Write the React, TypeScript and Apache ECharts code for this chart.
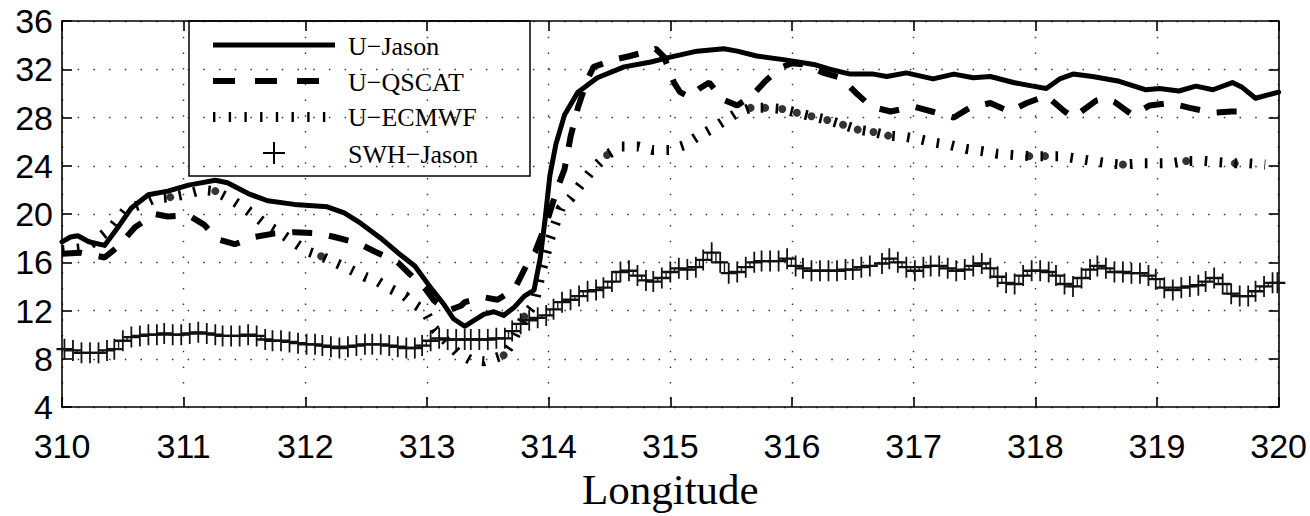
import React, { useEffect, useRef } from "react";
import * as echarts from "echarts";

// Longitude / value pairs
const uJason: [number, number][] = [
  [310.0, 17.7], [310.07, 18.1], [310.13, 18.2], [310.22, 17.7], [310.35, 17.4], [310.46, 18.9],
  [310.57, 20.5], [310.71, 21.6], [310.87, 21.9], [311.04, 22.4], [311.26, 22.8], [311.36, 22.6],
  [311.53, 21.7], [311.69, 21.1], [311.91, 20.8], [312.18, 20.6], [312.32, 20.1], [312.46, 19.2],
  [312.62, 18.0], [312.76, 16.8], [312.9, 15.7], [313.03, 13.9], [313.14, 12.5], [313.22, 11.3],
  [313.31, 10.7], [313.39, 11.2], [313.47, 11.7], [313.55, 11.9], [313.63, 11.6], [313.72, 12.3],
  [313.8, 13.2], [313.88, 13.7], [313.93, 16.3], [313.97, 19.5], [314.01, 23.2], [314.06, 25.8],
  [314.13, 28.2], [314.24, 30.1], [314.4, 31.3], [314.62, 32.2], [314.84, 32.6], [315.0, 33.0],
  [315.22, 33.5], [315.44, 33.7], [315.55, 33.5], [315.71, 33.1], [315.93, 32.8], [316.18, 32.4],
  [316.31, 32.0], [316.48, 31.6], [316.67, 31.6], [316.78, 31.4], [316.94, 31.7], [317.16, 31.2],
  [317.33, 31.6], [317.49, 31.3], [317.63, 31.4], [317.82, 30.9], [317.98, 30.6], [318.09, 30.4],
  [318.2, 31.2], [318.31, 31.6], [318.47, 31.4], [318.69, 31.0], [318.91, 30.3], [319.02, 30.4],
  [319.18, 30.2], [319.32, 30.6], [319.46, 30.3], [319.62, 30.9], [319.7, 30.5], [319.81, 29.6],
  [319.92, 29.9], [320.0, 30.1],
];

const uQscat: [number, number][] = [
  [310.0, 16.7], [310.15, 16.8], [310.35, 16.4], [310.46, 17.3], [310.6, 18.9], [310.76, 20.0],
  [310.87, 19.8], [311.04, 19.9], [311.17, 19.1], [311.28, 17.9], [311.42, 17.5], [311.58, 18.1],
  [311.75, 18.4], [311.91, 18.5], [312.1, 18.4], [312.24, 18.1], [312.43, 17.6], [312.57, 16.9],
  [312.76, 16.0], [312.84, 15.2], [312.98, 13.9], [313.06, 12.8], [313.17, 12.0], [313.28, 12.4],
  [313.31, 12.7], [313.47, 13.1], [313.58, 12.9], [313.72, 13.8], [313.83, 16.0], [313.89, 16.9],
  [313.99, 19.5], [314.07, 22.1], [314.13, 23.7], [314.18, 26.4], [314.24, 28.8], [314.32, 31.2],
  [314.37, 32.2], [314.54, 32.8], [314.67, 33.1], [314.78, 33.4], [314.88, 33.7], [314.95, 33.0],
  [315.03, 30.9], [315.08, 30.1], [315.16, 29.7], [315.24, 30.4], [315.32, 30.9], [315.43, 29.5],
  [315.55, 29.0], [315.67, 29.8], [315.78, 31.0], [315.9, 32.1], [316.0, 32.5], [316.1, 32.4],
  [316.26, 31.7], [316.4, 31.3], [316.52, 30.1], [316.65, 28.9], [316.81, 28.5], [317.0, 28.9],
  [317.15, 28.5], [317.33, 28.0], [317.46, 28.8], [317.63, 29.2], [317.79, 28.5], [317.93, 29.2],
  [318.09, 29.8], [318.23, 28.6], [318.31, 28.0], [318.5, 29.4], [318.58, 29.6], [318.65, 29.3],
  [318.8, 28.2], [318.94, 29.0], [319.1, 29.2], [319.27, 28.8], [319.46, 28.4], [319.61, 28.5],
  [319.7, 28.5],
];

const uEcmwf: [number, number][] = [
  [310.0, 17.0], [310.2, 17.2], [310.4, 18.8], [310.53, 20.4], [310.65, 20.8], [310.76, 21.3],
  [310.89, 21.4], [311.04, 21.7], [311.15, 22.0], [311.26, 21.9], [311.39, 21.2], [311.5, 20.5],
  [311.58, 19.9], [311.68, 19.1], [311.8, 18.4], [311.9, 17.7], [312.02, 16.9], [312.13, 16.5],
  [312.24, 16.0], [312.35, 15.5], [312.49, 14.8], [312.6, 14.4], [312.68, 13.9], [312.82, 13.2],
  [312.9, 12.5], [312.98, 12.0], [313.06, 10.5], [313.25, 8.5], [313.36, 7.9], [313.47, 7.8],
  [313.63, 8.3], [313.69, 9.2], [313.8, 11.5], [313.88, 12.5], [313.94, 15.2], [314.01, 17.9],
  [314.1, 20.5], [314.18, 21.3], [314.26, 22.4], [314.37, 23.8], [314.48, 24.9], [314.59, 25.6],
  [314.73, 25.6], [314.86, 25.3], [314.99, 25.3], [315.11, 25.7], [315.22, 26.4], [315.33, 27.0],
  [315.44, 27.7], [315.55, 28.4], [315.66, 28.8], [315.78, 28.8], [315.92, 28.7], [316.04, 28.4],
  [316.16, 28.1], [316.29, 27.8], [316.42, 27.4], [316.54, 27.0], [316.67, 26.8], [316.79, 26.5],
  [316.93, 26.4], [317.05, 26.2], [317.18, 25.9], [317.31, 25.7], [317.43, 25.4], [317.57, 25.2],
  [317.69, 25.0], [317.82, 24.9], [317.95, 24.8], [318.08, 24.8], [318.21, 24.8], [318.34, 24.6],
  [318.47, 24.4], [318.6, 24.2], [318.72, 24.1], [318.86, 24.2], [318.99, 24.2], [319.11, 24.2],
  [319.24, 24.4], [319.38, 24.4], [319.5, 24.3], [319.64, 24.2], [319.76, 24.2], [319.89, 24.1],
];

const ecmwfDots: [number, number][] = [
  [310.89, 21.4], [311.26, 21.9], [312.13, 16.5], [313.63, 8.3], [313.8, 11.5], [314.48, 24.9],
  [315.66, 28.8], [315.78, 28.8], [315.92, 28.7], [316.04, 28.4], [316.16, 28.1], [316.29, 27.8],
  [316.42, 27.4], [316.54, 27.0], [316.67, 26.8], [316.79, 26.5], [317.95, 24.8], [318.08, 24.8],
  [318.72, 24.1], [319.24, 24.4], [319.64, 24.2],
];

const swhJason: [number, number][] = [
  [310.02, 8.8], [310.09, 8.7], [310.16, 8.5], [310.23, 8.5], [310.3, 8.5], [310.37, 8.7],
  [310.43, 8.8], [310.5, 9.5], [310.57, 9.8], [310.64, 9.9], [310.71, 10.0], [310.78, 10.0],
  [310.84, 10.1], [310.91, 10.0], [310.98, 10.0], [311.05, 10.1], [311.12, 10.2], [311.19, 10.1],
  [311.26, 10.0], [311.32, 9.9], [311.39, 9.9], [311.46, 9.9], [311.53, 10.0], [311.6, 9.9],
  [311.67, 9.6], [311.73, 9.5], [311.8, 9.5], [311.87, 9.4], [311.94, 9.3], [312.01, 9.2],
  [312.08, 9.2], [312.14, 9.1], [312.21, 9.0], [312.28, 8.9], [312.35, 9.0], [312.42, 9.1],
  [312.49, 9.2], [312.55, 9.2], [312.62, 9.2], [312.69, 9.1], [312.76, 9.0], [312.83, 8.9],
  [312.9, 8.9], [312.96, 9.1], [313.03, 9.5], [313.1, 9.7], [313.17, 9.6], [313.24, 9.6],
  [313.31, 9.6], [313.36, 9.6], [313.43, 9.6], [313.5, 9.6], [313.57, 9.7], [313.64, 9.7],
  [313.7, 10.3], [313.77, 10.9], [313.84, 11.2], [313.91, 11.4], [313.98, 11.6], [314.04, 12.1],
  [314.11, 12.7], [314.18, 12.9], [314.25, 13.2], [314.32, 13.6], [314.39, 13.7], [314.45, 13.9],
  [314.52, 14.4], [314.59, 15.2], [314.66, 15.3], [314.73, 14.9], [314.8, 14.5], [314.86, 14.4],
  [314.93, 14.7], [315.0, 15.2], [315.07, 15.5], [315.14, 15.4], [315.21, 15.6], [315.27, 16.2],
  [315.34, 16.8], [315.41, 16.0], [315.48, 15.1], [315.55, 15.2], [315.62, 15.6], [315.69, 16.0],
  [315.75, 16.1], [315.82, 16.1], [315.89, 16.1], [315.96, 16.3], [316.03, 15.7], [316.09, 15.5],
  [316.16, 15.3], [316.23, 15.3], [316.3, 15.3], [316.37, 15.3], [316.44, 15.4], [316.5, 15.4],
  [316.57, 15.6], [316.64, 15.7], [316.74, 15.9], [316.8, 16.3], [316.87, 16.0], [316.94, 15.6],
  [317.01, 15.3], [317.08, 15.6], [317.14, 15.7], [317.21, 15.7], [317.28, 15.5], [317.35, 15.3],
  [317.42, 15.4], [317.49, 15.7], [317.56, 15.9], [317.63, 15.5], [317.69, 14.8], [317.76, 14.3],
  [317.83, 14.2], [317.9, 14.9], [317.97, 15.3], [318.04, 15.3], [318.11, 15.2], [318.17, 14.9],
  [318.24, 14.2], [318.31, 14.0], [318.38, 14.7], [318.45, 15.4], [318.51, 15.7], [318.58, 15.5],
  [318.65, 15.2], [318.72, 15.2], [318.79, 15.1], [318.86, 15.1], [318.93, 14.9], [318.99, 14.6],
  [319.06, 13.9], [319.13, 13.7], [319.2, 13.9], [319.27, 14.0], [319.34, 14.1], [319.4, 14.4],
  [319.47, 14.7], [319.54, 14.2], [319.61, 13.4], [319.68, 13.2], [319.75, 13.2], [319.81, 13.6],
  [319.88, 14.0], [319.95, 14.3], [319.99, 14.3],
];

const legendLabels = ["U\u2212Jason", "U\u2212QSCAT", "U\u2212ECMWF", "SWH\u2212Jason"];
const xName = "Longitude";

const PLUS = "path://M8,0H10V8H18V10H10V18H8V10H0V8H8Z";
const SANS = '"Liberation Sans", Arial, Helvetica, sans-serif';
const SERIF = '"Liberation Serif", "Times New Roman", serif';

export default function App() {
  const ref = useRef<HTMLDivElement>(null);

  useEffect(() => {
    if (!ref.current) return;
    const chart = echarts.init(ref.current, undefined, { renderer: "svg" });

    const gridDots = { color: "#333", width: 1.4, type: [1.5, 14.2] as number[] };
    const axisLineStyle = { color: "#000", width: 1.6 };
    const tick = { show: true, inside: true, length: 10, lineStyle: { color: "#000", width: 1.6 } };

    const legendX = 189;
    const legendY = 21;
    const lineX1 = 213;
    const lineX2 = 335;
    const rowY = [45, 81, 117, 153];
    const textX = 348;

    chart.setOption({
      animation: false,
      backgroundColor: "#fff",
      grid: { left: 62, right: 29, top: 21, bottom: 94, containLabel: false },
      xAxis: [
        {
          type: "value",
          min: 310,
          max: 320,
          interval: 1,
          position: "bottom",
          name: xName,
          nameLocation: "middle",
          nameGap: 55,
          nameTextStyle: { fontFamily: SERIF, fontSize: 43, color: "#000" },
          axisLine: { show: true, onZero: false, lineStyle: axisLineStyle },
          axisTick: tick,
          axisLabel: { fontFamily: SANS, fontSize: 34, color: "#000", margin: 22 },
          splitLine: { show: true, lineStyle: gridDots },
        },
        {
          type: "value",
          min: 310,
          max: 320,
          interval: 1,
          position: "top",
          axisLine: { show: true, onZero: false, lineStyle: axisLineStyle },
          axisTick: tick,
          axisLabel: { show: false },
          splitLine: { show: false },
        },
      ],
      yAxis: [
        {
          type: "value",
          min: 4,
          max: 36,
          interval: 4,
          position: "left",
          axisLine: { show: true, onZero: false, lineStyle: axisLineStyle },
          axisTick: tick,
          axisLabel: { fontFamily: SANS, fontSize: 34, color: "#000", margin: 9 },
          splitLine: { show: true, lineStyle: gridDots },
        },
        {
          type: "value",
          min: 4,
          max: 36,
          interval: 4,
          position: "right",
          axisLine: { show: true, onZero: false, lineStyle: axisLineStyle },
          axisTick: tick,
          axisLabel: { show: false },
          splitLine: { show: false },
        },
      ],
      series: [
        {
          name: legendLabels[0],
          type: "line",
          data: uJason,
          symbol: "none",
          lineStyle: { color: "#000", width: 5, join: "round", cap: "round" },
          z: 4,
        },
        {
          name: legendLabels[1],
          type: "line",
          data: uQscat,
          symbol: "none",
          lineStyle: { color: "#000", width: 6, type: [20, 17], cap: "butt", join: "bevel" },
          z: 3,
        },
        {
          name: legendLabels[2],
          type: "line",
          data: uEcmwf,
          symbol: "none",
          lineStyle: { color: "#000", width: 10, type: [2.6, 12.4], cap: "butt", join: "bevel" },
          z: 3,
        },
        {
          name: legendLabels[2] + " dots",
          type: "scatter",
          data: ecmwfDots,
          symbol: "circle",
          symbolSize: 8,
          itemStyle: { color: "#000" },
          z: 3,
        },
        {
          name: legendLabels[3],
          type: "line",
          data: swhJason,
          step: "middle",
          symbol: PLUS,
          symbolSize: [16, 21],
          showSymbol: true,
          itemStyle: { color: "#111" },
          lineStyle: { color: "#222", width: 1.4 },
          z: 5,
        },
      ],
      graphic: [
        {
          type: "group",
          z: 100,
          children: [
            {
              type: "rect",
              shape: { x: legendX, y: legendY, width: 341, height: 155 },
              style: { fill: "#fff", stroke: "#000", lineWidth: 1.5 },
            },
            {
              type: "line",
              shape: { x1: lineX1, y1: rowY[0], x2: lineX2, y2: rowY[0] },
              style: { stroke: "#000", lineWidth: 5 },
            },
            {
              type: "line",
              shape: { x1: lineX1, y1: rowY[1], x2: 320, y2: rowY[1] },
              style: { stroke: "#000", lineWidth: 6, lineDash: [22, 20] },
            },
            {
              type: "line",
              shape: { x1: lineX1, y1: rowY[2], x2: 327, y2: rowY[2] },
              style: { stroke: "#000", lineWidth: 10, lineDash: [2.4, 13.3] },
            },
            {
              type: "line",
              shape: { x1: 263, y1: rowY[3], x2: 285, y2: rowY[3] },
              style: { stroke: "#000", lineWidth: 2 },
            },
            {
              type: "line",
              shape: { x1: 274, y1: rowY[3] - 11, x2: 274, y2: rowY[3] + 11 },
              style: { stroke: "#000", lineWidth: 2 },
            },
            ...legendLabels.map((t, i) => ({
              type: "text",
              x: textX,
              y: [46, 82, 117, 154][i],
              style: {
                text: t,
                fill: "#000",
                font: `26px ${SERIF}`,
                textAlign: "left",
                textVerticalAlign: "middle",
              },
            })),
          ],
        },
      ],
    });

    return () => chart.dispose();
  }, []);

  return (
    <div
      ref={ref}
      style={{ position: "fixed", left: 0, top: 0, width: 1310, height: 516, background: "#fff" }}
    />
  );
}
